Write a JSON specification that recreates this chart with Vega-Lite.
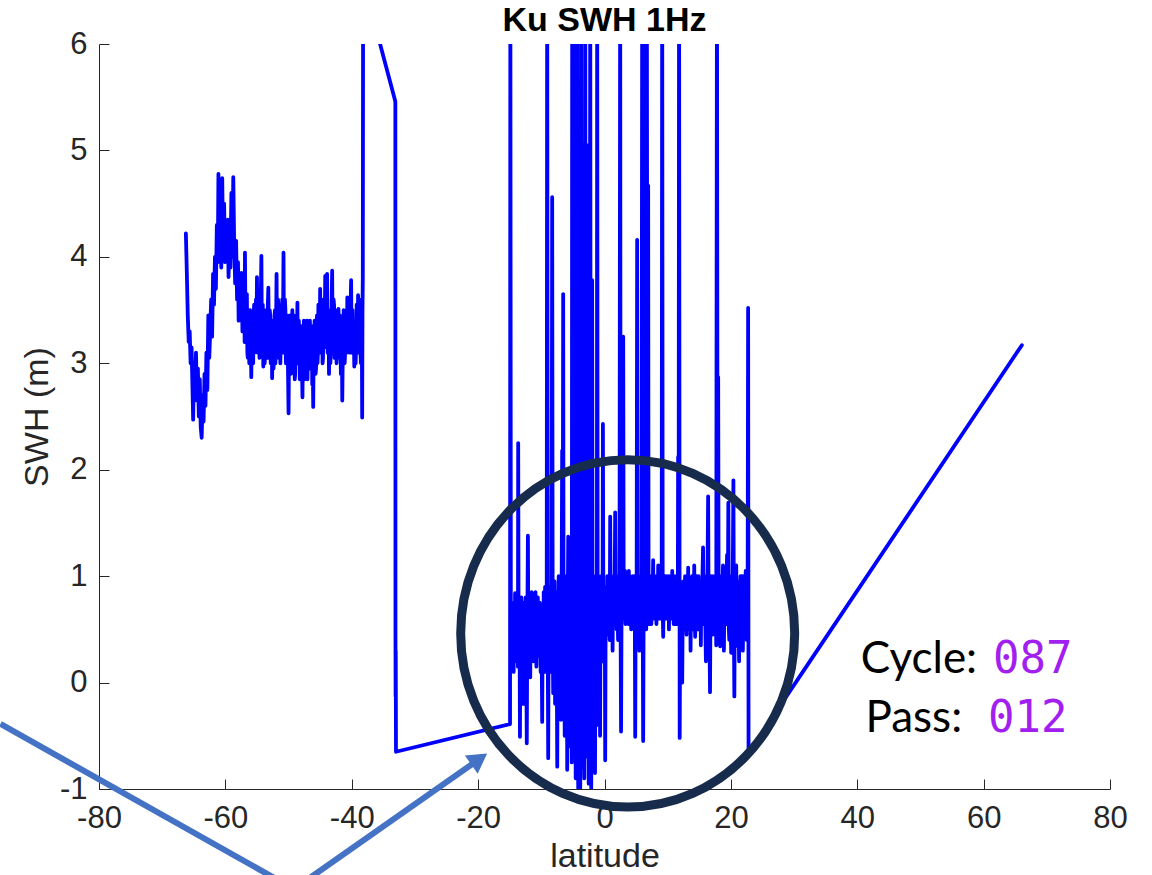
{
  "$schema": "https://vega.github.io/schema/vega-lite/v6.json",
  "width": 1011,
  "height": 745,
  "autosize": {"type": "none"},
  "padding": {"left": 99, "top": 44, "right": 42, "bottom": 86},
  "background": "white",
  "title": {"text": "Ku SWH 1Hz", "font": "Liberation Sans", "fontSize": 34, "fontWeight": "bold", "color": "#000000", "anchor": "middle", "offset": -10},
  "config": {
    "view": {"stroke": null},
    "axis": {
      "grid": false,
      "domainColor": "#262626",
      "tickColor": "#262626",
      "domainWidth": 1,
      "tickWidth": 1,
      "tickSize": -10,
      "labelFlush": false,
      "labelFont": "Liberation Sans",
      "labelFontSize": 31,
      "labelColor": "#262626",
      "labelExpr": "'' + datum.value",
      "titleFont": "Liberation Sans",
      "titleFontSize": 34,
      "titleFontWeight": "normal",
      "titleColor": "#262626"
    }
  },
  "datasets": {
    "swh": [
      {"lat": -66.25, "swh": 4.22}, {"lat": -66.1, "swh": 3.85}, {"lat": -65.95, "swh": 3.45}, {"lat": -65.8, "swh": 3.2},
      {"lat": -65.65, "swh": 3.3}, {"lat": -65.5, "swh": 3.0}, {"lat": -65.35, "swh": 3.15}, {"lat": -65.2, "swh": 2.75},
      {"lat": -65.1, "swh": 2.47}, {"lat": -64.95, "swh": 3.0}, {"lat": -64.8, "swh": 2.8}, {"lat": -64.65, "swh": 3.1},
      {"lat": -64.5, "swh": 2.65}, {"lat": -64.35, "swh": 2.95}, {"lat": -64.2, "swh": 2.5}, {"lat": -64.05, "swh": 2.85},
      {"lat": -63.9, "swh": 2.4}, {"lat": -63.75, "swh": 2.3}, {"lat": -63.6, "swh": 2.7}, {"lat": -63.45, "swh": 2.45},
      {"lat": -63.3, "swh": 2.9}, {"lat": -63.15, "swh": 2.6}, {"lat": -63.0, "swh": 3.1}, {"lat": -62.85, "swh": 2.75},
      {"lat": -62.7, "swh": 3.45}, {"lat": -62.55, "swh": 3.05}, {"lat": -62.4, "swh": 3.3}, {"lat": -62.25, "swh": 3.6},
      {"lat": -62.1, "swh": 3.25}, {"lat": -61.95, "swh": 3.84}, {"lat": -61.8, "swh": 3.55}, {"lat": -61.65, "swh": 4.0},
      {"lat": -61.5, "swh": 3.7}, {"lat": -61.35, "swh": 4.3}, {"lat": -61.2, "swh": 3.95}, {"lat": -61.1, "swh": 4.78},
      {"lat": -60.95, "swh": 4.1}, {"lat": -60.8, "swh": 4.4}, {"lat": -60.65, "swh": 3.9}, {"lat": -60.5, "swh": 4.74},
      {"lat": -60.35, "swh": 4.05}, {"lat": -60.2, "swh": 4.5}, {"lat": -60.05, "swh": 3.95}, {"lat": -59.9, "swh": 4.3},
      {"lat": -59.75, "swh": 4.0}, {"lat": -59.6, "swh": 4.35}, {"lat": -59.5, "swh": 3.81}, {"lat": -59.35, "swh": 4.2},
      {"lat": -59.2, "swh": 3.9}, {"lat": -59.05, "swh": 4.6}, {"lat": -58.9, "swh": 4.0}, {"lat": -58.75, "swh": 4.75},
      {"lat": -58.6, "swh": 4.1}, {"lat": -58.45, "swh": 3.75}, {"lat": -58.3, "swh": 4.15}, {"lat": -58.15, "swh": 3.6},
      {"lat": -58.0, "swh": 3.95}, {"lat": -57.9, "swh": 3.4}, {"lat": -57.75, "swh": 3.75}, {"lat": -57.6, "swh": 3.45},
      {"lat": -57.45, "swh": 3.85}, {"lat": -57.3, "swh": 3.3}, {"lat": -57.15, "swh": 3.7},
      {"lat": -57.0, "swh": 3.5}, {"lat": -56.95, "swh": 3.2}, {"lat": -56.9, "swh": 4.04}, {"lat": -56.82, "swh": 3.4},
      {"lat": -56.75, "swh": 3.2}, {"lat": -56.68, "swh": 3.55}, {"lat": -56.6, "swh": 3.65}, {"lat": -56.52, "swh": 3.1},
      {"lat": -56.45, "swh": 3.05}, {"lat": -56.38, "swh": 3.45}, {"lat": -56.3, "swh": 3.5}, {"lat": -56.22, "swh": 3.0},
      {"lat": -56.15, "swh": 3.1}, {"lat": -56.08, "swh": 3.5}, {"lat": -56.0, "swh": 3.4}, {"lat": -55.95, "swh": 3.1},
      {"lat": -55.9, "swh": 2.87}, {"lat": -55.82, "swh": 3.3}, {"lat": -55.75, "swh": 3.35}, {"lat": -55.68, "swh": 3.05},
      {"lat": -55.6, "swh": 3.0}, {"lat": -55.52, "swh": 3.45}, {"lat": -55.45, "swh": 3.55}, {"lat": -55.38, "swh": 3.1},
      {"lat": -55.3, "swh": 3.15}, {"lat": -55.22, "swh": 3.5}, {"lat": -55.15, "swh": 3.6}, {"lat": -55.08, "swh": 3.2},
      {"lat": -55.0, "swh": 3.81}, {"lat": -54.92, "swh": 3.3}, {"lat": -54.85, "swh": 3.1}, {"lat": -54.78, "swh": 3.5},
      {"lat": -54.7, "swh": 3.55}, {"lat": -54.6, "swh": 3.05}, {"lat": -54.5, "swh": 3.2}, {"lat": -54.4, "swh": 3.6},
      {"lat": -54.3, "swh": 4.01}, {"lat": -54.22, "swh": 3.15}, {"lat": -54.15, "swh": 3.3}, {"lat": -54.08, "swh": 3.55},
      {"lat": -54.0, "swh": 2.97}, {"lat": -53.92, "swh": 3.3}, {"lat": -53.85, "swh": 3.4}, {"lat": -53.78, "swh": 3.0},
      {"lat": -53.7, "swh": 3.1}, {"lat": -53.62, "swh": 3.45}, {"lat": -53.55, "swh": 3.5}, {"lat": -53.48, "swh": 3.05},
      {"lat": -53.4, "swh": 3.25}, {"lat": -53.3, "swh": 3.5}, {"lat": -53.2, "swh": 3.71}, {"lat": -53.12, "swh": 3.2},
      {"lat": -53.05, "swh": 3.05}, {"lat": -52.98, "swh": 3.5}, {"lat": -52.9, "swh": 3.45}, {"lat": -52.82, "swh": 3.0},
      {"lat": -52.75, "swh": 3.15}, {"lat": -52.68, "swh": 3.4}, {"lat": -52.6, "swh": 2.86}, {"lat": -52.52, "swh": 3.2},
      {"lat": -52.45, "swh": 3.35}, {"lat": -52.38, "swh": 2.95}, {"lat": -52.3, "swh": 3.05}, {"lat": -52.22, "swh": 3.45},
      {"lat": -52.15, "swh": 3.5}, {"lat": -52.08, "swh": 3.0}, {"lat": -52.0, "swh": 3.2}, {"lat": -51.95, "swh": 3.5},
      {"lat": -51.9, "swh": 3.84}, {"lat": -51.82, "swh": 3.1}, {"lat": -51.75, "swh": 3.3}, {"lat": -51.68, "swh": 3.6},
      {"lat": -51.6, "swh": 3.55}, {"lat": -51.52, "swh": 3.05}, {"lat": -51.45, "swh": 3.15}, {"lat": -51.38, "swh": 3.5},
      {"lat": -51.3, "swh": 3.0}, {"lat": -51.22, "swh": 3.3}, {"lat": -51.15, "swh": 3.4}, {"lat": -51.08, "swh": 3.1},
      {"lat": -51.0, "swh": 3.6}, {"lat": -50.9, "swh": 3.2}, {"lat": -50.8, "swh": 4.04}, {"lat": -50.72, "swh": 3.1},
      {"lat": -50.65, "swh": 3.3}, {"lat": -50.58, "swh": 3.6}, {"lat": -50.5, "swh": 3.5}, {"lat": -50.42, "swh": 3.0},
      {"lat": -50.35, "swh": 3.05}, {"lat": -50.25, "swh": 3.45}, {"lat": -50.15, "swh": 3.3}, {"lat": -50.08, "swh": 2.9},
      {"lat": -50.0, "swh": 2.53}, {"lat": -49.92, "swh": 3.2}, {"lat": -49.85, "swh": 3.1}, {"lat": -49.78, "swh": 3.45},
      {"lat": -49.7, "swh": 3.35}, {"lat": -49.62, "swh": 2.9}, {"lat": -49.55, "swh": 2.95}, {"lat": -49.48, "swh": 3.3},
      {"lat": -49.4, "swh": 3.5}, {"lat": -49.32, "swh": 3.0}, {"lat": -49.25, "swh": 3.1}, {"lat": -49.18, "swh": 3.45},
      {"lat": -49.1, "swh": 3.3}, {"lat": -49.02, "swh": 2.85}, {"lat": -48.95, "swh": 2.9}, {"lat": -48.88, "swh": 3.3},
      {"lat": -48.8, "swh": 3.4}, {"lat": -48.7, "swh": 3.0}, {"lat": -48.6, "swh": 3.57}, {"lat": -48.52, "swh": 3.0},
      {"lat": -48.45, "swh": 3.1}, {"lat": -48.38, "swh": 3.4}, {"lat": -48.3, "swh": 3.3}, {"lat": -48.22, "swh": 2.85},
      {"lat": -48.15, "swh": 2.9}, {"lat": -48.05, "swh": 3.35}, {"lat": -47.95, "swh": 3.2}, {"lat": -47.88, "swh": 3.0},
      {"lat": -47.8, "swh": 2.68}, {"lat": -47.72, "swh": 3.2}, {"lat": -47.65, "swh": 3.05}, {"lat": -47.58, "swh": 3.4},
      {"lat": -47.5, "swh": 3.25}, {"lat": -47.42, "swh": 2.85}, {"lat": -47.35, "swh": 2.95}, {"lat": -47.28, "swh": 3.3},
      {"lat": -47.2, "swh": 3.15}, {"lat": -47.1, "swh": 3.4}, {"lat": -47.0, "swh": 2.85}, {"lat": -46.92, "swh": 3.3},
      {"lat": -46.85, "swh": 3.2}, {"lat": -46.78, "swh": 2.95}, {"lat": -46.7, "swh": 3.29}, {"lat": -46.62, "swh": 3.4},
      {"lat": -46.55, "swh": 2.95}, {"lat": -46.48, "swh": 3.25}, {"lat": -46.4, "swh": 3.15}, {"lat": -46.32, "swh": 3.35},
      {"lat": -46.25, "swh": 2.8}, {"lat": -46.18, "swh": 3.1}, {"lat": -46.1, "swh": 2.59}, {"lat": -46.02, "swh": 3.2},
      {"lat": -45.95, "swh": 3.0}, {"lat": -45.88, "swh": 3.4}, {"lat": -45.8, "swh": 3.3}, {"lat": -45.72, "swh": 2.9},
      {"lat": -45.65, "swh": 2.95}, {"lat": -45.58, "swh": 3.35}, {"lat": -45.5, "swh": 3.45}, {"lat": -45.42, "swh": 3.0},
      {"lat": -45.35, "swh": 3.1}, {"lat": -45.28, "swh": 3.55}, {"lat": -45.2, "swh": 3.5}, {"lat": -45.1, "swh": 3.1},
      {"lat": -45.0, "swh": 3.7}, {"lat": -44.92, "swh": 3.1}, {"lat": -44.85, "swh": 3.2}, {"lat": -44.78, "swh": 3.6},
      {"lat": -44.7, "swh": 3.55}, {"lat": -44.62, "swh": 3.0}, {"lat": -44.55, "swh": 3.05}, {"lat": -44.48, "swh": 3.5},
      {"lat": -44.4, "swh": 3.6}, {"lat": -44.3, "swh": 3.15}, {"lat": -44.2, "swh": 3.82}, {"lat": -44.12, "swh": 3.2},
      {"lat": -44.05, "swh": 3.3}, {"lat": -43.98, "swh": 3.5}, {"lat": -43.9, "swh": 3.84}, {"lat": -43.82, "swh": 3.1},
      {"lat": -43.75, "swh": 3.25}, {"lat": -43.68, "swh": 3.5}, {"lat": -43.6, "swh": 2.9}, {"lat": -43.52, "swh": 3.2},
      {"lat": -43.45, "swh": 3.4}, {"lat": -43.38, "swh": 3.0}, {"lat": -43.3, "swh": 3.15}, {"lat": -43.2, "swh": 3.5},
      {"lat": -43.1, "swh": 3.87}, {"lat": -43.02, "swh": 3.1}, {"lat": -42.95, "swh": 3.3}, {"lat": -42.88, "swh": 3.6},
      {"lat": -42.8, "swh": 3.55}, {"lat": -42.72, "swh": 3.05}, {"lat": -42.65, "swh": 3.1}, {"lat": -42.58, "swh": 3.5},
      {"lat": -42.5, "swh": 3.4}, {"lat": -42.4, "swh": 3.0}, {"lat": -42.3, "swh": 3.2}, {"lat": -42.2, "swh": 3.3},
      {"lat": -42.1, "swh": 3.51}, {"lat": -42.02, "swh": 3.1}, {"lat": -41.95, "swh": 3.05}, {"lat": -41.88, "swh": 3.45},
      {"lat": -41.8, "swh": 3.35}, {"lat": -41.72, "swh": 2.9}, {"lat": -41.65, "swh": 2.95}, {"lat": -41.58, "swh": 3.3},
      {"lat": -41.5, "swh": 2.65}, {"lat": -41.42, "swh": 3.1}, {"lat": -41.35, "swh": 3.2}, {"lat": -41.28, "swh": 3.5},
      {"lat": -41.2, "swh": 3.45}, {"lat": -41.12, "swh": 3.0}, {"lat": -41.05, "swh": 3.1}, {"lat": -40.98, "swh": 3.4},
      {"lat": -40.9, "swh": 3.35}, {"lat": -40.8, "swh": 3.1}, {"lat": -40.7, "swh": 3.62}, {"lat": -40.62, "swh": 3.15},
      {"lat": -40.55, "swh": 3.2}, {"lat": -40.48, "swh": 3.55}, {"lat": -40.4, "swh": 3.5}, {"lat": -40.32, "swh": 3.1},
      {"lat": -40.25, "swh": 3.25}, {"lat": -40.18, "swh": 3.55}, {"lat": -40.1, "swh": 3.78}, {"lat": -40.02, "swh": 3.1},
      {"lat": -39.95, "swh": 3.3}, {"lat": -39.88, "swh": 3.5}, {"lat": -39.8, "swh": 3.1}, {"lat": -39.7, "swh": 3.4},
      {"lat": -39.6, "swh": 2.97}, {"lat": -39.52, "swh": 3.25}, {"lat": -39.45, "swh": 3.35}, {"lat": -39.38, "swh": 3.0},
      {"lat": -39.3, "swh": 3.2}, {"lat": -39.22, "swh": 3.55}, {"lat": -39.15, "swh": 3.5}, {"lat": -39.08, "swh": 3.1},
      {"lat": -39.0, "swh": 3.64}, {"lat": -38.92, "swh": 3.2}, {"lat": -38.85, "swh": 3.15}, {"lat": -38.78, "swh": 3.5},
      {"lat": -38.7, "swh": 3.55}, {"lat": -38.62, "swh": 3.1}, {"lat": -38.55, "swh": 3.0}, {"lat": -38.5, "swh": 3.45},
      {"lat": -38.45, "swh": 3.6}, {"lat": -38.4, "swh": 3.2}, {"lat": -38.35, "swh": 2.49}, {"lat": -38.3, "swh": 3.5},
      {"lat": -38.25, "swh": 3.8}, {"lat": -38.2, "swh": 6.6},
      {"lat": -33.1, "swh": 5.46}, {"lat": -33.08, "swh": 0.49}, {"lat": -33.06, "swh": -0.13}, {"lat": -33.04, "swh": 0.3},
      {"lat": -33.0, "swh": -0.65}, {"lat": -14.95, "swh": -0.39}, {"lat": -14.9, "swh": 6.8},
      {"lat": -14.82, "swh": 0.5}, {"lat": -14.75, "swh": 0.3}, {"lat": -14.68, "swh": 0.75}, {"lat": -14.6, "swh": 0.25},
      {"lat": -14.52, "swh": 0.7}, {"lat": -14.45, "swh": 0.35}, {"lat": -14.38, "swh": 0.1}, {"lat": -14.3, "swh": 0.65},
      {"lat": -14.22, "swh": 0.3}, {"lat": -14.15, "swh": 0.84}, {"lat": -14.08, "swh": 0.4}, {"lat": -14.0, "swh": 0.7},
      {"lat": -13.92, "swh": 0.2}, {"lat": -13.85, "swh": 0.8}, {"lat": -13.78, "swh": 0.45}, {"lat": -13.7, "swh": 0.15},
      {"lat": -13.66, "swh": 2.25}, {"lat": -13.6, "swh": 0.6}, {"lat": -13.52, "swh": 0.3}, {"lat": -13.45, "swh": 0.75},
      {"lat": -13.38, "swh": -0.51}, {"lat": -13.3, "swh": 0.6}, {"lat": -13.22, "swh": 0.35}, {"lat": -13.15, "swh": 0.8},
      {"lat": -13.08, "swh": 0.2}, {"lat": -13.0, "swh": 0.65}, {"lat": -12.92, "swh": 0.4}, {"lat": -12.85, "swh": -0.2},
      {"lat": -12.78, "swh": 0.75}, {"lat": -12.7, "swh": 0.3}, {"lat": -12.62, "swh": 0.6}, {"lat": -12.55, "swh": 0.2},
      {"lat": -12.48, "swh": 0.8}, {"lat": -12.4, "swh": 0.45}, {"lat": -12.3, "swh": -0.57}, {"lat": -12.22, "swh": 0.5},
      {"lat": -12.12, "swh": 1.38}, {"lat": -12.05, "swh": 0.35}, {"lat": -11.98, "swh": 0.7}, {"lat": -11.9, "swh": 0.25},
      {"lat": -11.82, "swh": 0.6}, {"lat": -11.75, "swh": 0.05}, {"lat": -11.68, "swh": 0.75}, {"lat": -11.6, "swh": 0.4},
      {"lat": -11.52, "swh": 0.85}, {"lat": -11.45, "swh": 0.3}, {"lat": -11.38, "swh": 0.65}, {"lat": -11.3, "swh": 0.2},
      {"lat": -11.22, "swh": 0.8}, {"lat": -11.15, "swh": 0.45}, {"lat": -11.08, "swh": 0.7}, {"lat": -11.0, "swh": 0.3},
      {"lat": -10.92, "swh": 0.85}, {"lat": -10.85, "swh": 0.5}, {"lat": -10.78, "swh": 0.15}, {"lat": -10.7, "swh": 0.7},
      {"lat": -10.62, "swh": 0.35}, {"lat": -10.55, "swh": 0.8}, {"lat": -10.48, "swh": 0.3}, {"lat": -10.4, "swh": 0.6},
      {"lat": -10.32, "swh": 0.25}, {"lat": -10.25, "swh": 0.75}, {"lat": -10.18, "swh": 0.45}, {"lat": -10.1, "swh": 0.1},
      {"lat": -10.02, "swh": 0.65}, {"lat": -9.95, "swh": 0.3}, {"lat": -9.86, "swh": -0.37}, {"lat": -9.78, "swh": 0.7},
      {"lat": -9.7, "swh": 0.4}, {"lat": -9.62, "swh": 0.85}, {"lat": -9.55, "swh": 0.2}, {"lat": -9.48, "swh": 0.6},
      {"lat": -9.4, "swh": 0.9}, {"lat": -9.32, "swh": 0.1}, {"lat": -9.24, "swh": 0.55}, {"lat": -9.15, "swh": 0.3},
      {"lat": -9.07, "swh": 6.8}, {"lat": -8.98, "swh": 0.4}, {"lat": -8.91, "swh": -0.71}, {"lat": -8.83, "swh": 0.7},
      {"lat": -8.75, "swh": 0.25}, {"lat": -8.68, "swh": 0.85}, {"lat": -8.6, "swh": 0.1}, {"lat": -8.52, "swh": 0.6},
      {"lat": -8.45, "swh": 0.9}, {"lat": -8.38, "swh": 0.3}, {"lat": -8.28, "swh": 4.56}, {"lat": -8.2, "swh": 0.5},
      {"lat": -8.12, "swh": -0.1}, {"lat": -8.05, "swh": 0.8}, {"lat": -7.98, "swh": 0.35}, {"lat": -7.9, "swh": 0.95},
      {"lat": -7.82, "swh": -0.2}, {"lat": -7.75, "swh": 0.6}, {"lat": -7.68, "swh": 0.2}, {"lat": -7.6, "swh": 0.85},
      {"lat": -7.48, "swh": -0.79}, {"lat": -7.4, "swh": 0.7}, {"lat": -7.32, "swh": 0.3}, {"lat": -7.25, "swh": 1.0},
      {"lat": -7.18, "swh": 0.1}, {"lat": -7.1, "swh": 0.75}, {"lat": -7.02, "swh": -0.3}, {"lat": -6.95, "swh": 0.9},
      {"lat": -6.88, "swh": -0.35}, {"lat": -6.8, "swh": 0.6}, {"lat": -6.7, "swh": 2.18}, {"lat": -6.62, "swh": 0.3},
      {"lat": -6.54, "swh": 3.65}, {"lat": -6.46, "swh": -0.2}, {"lat": -6.38, "swh": 0.8}, {"lat": -6.3, "swh": -0.5},
      {"lat": -6.22, "swh": 1.0}, {"lat": -6.14, "swh": 0.2}, {"lat": -6.06, "swh": -0.4}, {"lat": -5.98, "swh": 0.9},
      {"lat": -5.9, "swh": -0.82}, {"lat": -5.82, "swh": 0.6}, {"lat": -5.74, "swh": 1.37}, {"lat": -5.66, "swh": -0.3},
      {"lat": -5.58, "swh": 0.8}, {"lat": -5.5, "swh": -0.6}, {"lat": -5.42, "swh": 1.1}, {"lat": -5.34, "swh": -0.2},
      {"lat": -5.26, "swh": 0.9}, {"lat": -5.18, "swh": -0.75}, {"lat": -5.11, "swh": 6.8}, {"lat": -5.04, "swh": 0.2},
      {"lat": -4.96, "swh": -0.7}, {"lat": -4.88, "swh": 1.0}, {"lat": -4.8, "swh": 6.8}, {"lat": -4.72, "swh": -0.5},
      {"lat": -4.64, "swh": 0.8}, {"lat": -4.56, "swh": -0.9}, {"lat": -4.48, "swh": 1.15}, {"lat": -4.4, "swh": -0.3},
      {"lat": -4.33, "swh": 6.8}, {"lat": -4.25, "swh": 0.4}, {"lat": -4.16, "swh": -0.99}, {"lat": -4.08, "swh": 0.9},
      {"lat": -4.0, "swh": 1.2}, {"lat": -3.92, "swh": -0.6}, {"lat": -3.84, "swh": -0.99}, {"lat": -3.76, "swh": 0.7},
      {"lat": -3.7, "swh": 6.8}, {"lat": -3.62, "swh": 0.1}, {"lat": -3.55, "swh": -0.8}, {"lat": -3.47, "swh": 1.0},
      {"lat": -3.37, "swh": 5.05}, {"lat": -3.28, "swh": -0.4}, {"lat": -3.2, "swh": -0.9}, {"lat": -3.12, "swh": 0.8},
      {"lat": -3.05, "swh": 6.8}, {"lat": -2.97, "swh": 0.3}, {"lat": -2.9, "swh": -0.6}, {"lat": -2.82, "swh": 1.1},
      {"lat": -2.74, "swh": 5.05}, {"lat": -2.66, "swh": -0.7}, {"lat": -2.58, "swh": 0.6}, {"lat": -2.5, "swh": -0.95},
      {"lat": -2.42, "swh": 0.9}, {"lat": -2.34, "swh": -0.2}, {"lat": -2.26, "swh": 6.8}, {"lat": -2.18, "swh": 0.5},
      {"lat": -2.1, "swh": -0.99}, {"lat": -2.02, "swh": 0.8}, {"lat": -1.95, "swh": 3.78}, {"lat": -1.87, "swh": -0.5},
      {"lat": -1.8, "swh": 0.9}, {"lat": -1.72, "swh": -0.3}, {"lat": -1.65, "swh": 1.0}, {"lat": -1.57, "swh": -0.1},
      {"lat": -1.5, "swh": -0.85}, {"lat": -1.42, "swh": 0.7}, {"lat": -1.35, "swh": 0.9}, {"lat": -1.27, "swh": -0.4},
      {"lat": -1.2, "swh": 0.8}, {"lat": -1.16, "swh": 6.8}, {"lat": -1.08, "swh": 0.3}, {"lat": -1.0, "swh": 0.1},
      {"lat": -0.92, "swh": 0.95}, {"lat": -0.85, "swh": 0.4}, {"lat": -0.78, "swh": 0.8}, {"lat": -0.7, "swh": -0.5},
      {"lat": -0.62, "swh": 0.9}, {"lat": -0.55, "swh": 1.0}, {"lat": -0.48, "swh": 0.3}, {"lat": -0.4, "swh": 0.85},
      {"lat": -0.32, "swh": 0.2}, {"lat": -0.25, "swh": 2.43}, {"lat": -0.18, "swh": 0.6}, {"lat": -0.1, "swh": 0.9},
      {"lat": -0.02, "swh": 0.3}, {"lat": 0.05, "swh": 0.7}, {"lat": 0.11, "swh": -0.73}, {"lat": 0.19, "swh": 0.8},
      {"lat": 0.27, "swh": 0.9}, {"lat": 0.35, "swh": 0.45}, {"lat": 0.45, "swh": 1.0}, {"lat": 0.52, "swh": 0.5},
      {"lat": 0.6, "swh": 1.0}, {"lat": 0.68, "swh": 0.6}, {"lat": 0.75, "swh": 0.95}, {"lat": 0.82, "swh": 0.4},
      {"lat": 0.9, "swh": 1.56}, {"lat": 0.98, "swh": 0.7}, {"lat": 1.05, "swh": 1.0}, {"lat": 1.12, "swh": 0.6},
      {"lat": 1.2, "swh": 0.95}, {"lat": 1.28, "swh": 0.3}, {"lat": 1.35, "swh": 0.85}, {"lat": 1.42, "swh": 0.55},
      {"lat": 1.5, "swh": 1.0}, {"lat": 1.58, "swh": 0.6}, {"lat": 1.69, "swh": 1.6}, {"lat": 1.77, "swh": 0.65},
      {"lat": 1.85, "swh": 1.0}, {"lat": 1.92, "swh": 0.5}, {"lat": 2.0, "swh": 0.95}, {"lat": 2.08, "swh": 0.6},
      {"lat": 2.15, "swh": 0.4}, {"lat": 2.22, "swh": 0.9}, {"lat": 2.3, "swh": 0.65}, {"lat": 2.38, "swh": 1.0},
      {"lat": 2.48, "swh": 6.8}, {"lat": 2.55, "swh": 0.5}, {"lat": 2.62, "swh": -0.46}, {"lat": 2.7, "swh": 0.7},
      {"lat": 2.8, "swh": 0.95}, {"lat": 2.88, "swh": 0.6}, {"lat": 2.96, "swh": 3.25}, {"lat": 3.04, "swh": 0.7},
      {"lat": 3.1, "swh": 1.0}, {"lat": 3.18, "swh": 0.6}, {"lat": 3.25, "swh": 1.05}, {"lat": 3.32, "swh": 0.55},
      {"lat": 3.4, "swh": 0.9}, {"lat": 3.48, "swh": 0.6}, {"lat": 3.55, "swh": 1.0}, {"lat": 3.62, "swh": 0.65},
      {"lat": 3.7, "swh": 0.9}, {"lat": 3.78, "swh": 0.55}, {"lat": 3.85, "swh": 1.05}, {"lat": 3.92, "swh": 0.7},
      {"lat": 4.0, "swh": 1.0}, {"lat": 4.08, "swh": 0.6}, {"lat": 4.15, "swh": 0.95}, {"lat": 4.22, "swh": 0.5},
      {"lat": 4.3, "swh": 0.9}, {"lat": 4.38, "swh": 0.65}, {"lat": 4.45, "swh": 1.0}, {"lat": 4.52, "swh": 0.55},
      {"lat": 4.6, "swh": 0.85}, {"lat": 4.7, "swh": 0.6}, {"lat": 4.78, "swh": 1.0}, {"lat": 4.86, "swh": -0.51},
      {"lat": 4.93, "swh": 0.7}, {"lat": 5.0, "swh": 0.95}, {"lat": 5.08, "swh": 0.6}, {"lat": 5.17, "swh": 4.16},
      {"lat": 5.24, "swh": 0.6}, {"lat": 5.3, "swh": 1.0}, {"lat": 5.38, "swh": 0.7}, {"lat": 5.45, "swh": 0.95},
      {"lat": 5.52, "swh": 0.3}, {"lat": 5.6, "swh": 0.85}, {"lat": 5.68, "swh": 0.6}, {"lat": 5.75, "swh": 1.0},
      {"lat": 5.85, "swh": 0.55}, {"lat": 5.97, "swh": 6.8}, {"lat": 6.05, "swh": 0.7}, {"lat": 6.12, "swh": -0.55},
      {"lat": 6.2, "swh": 0.8}, {"lat": 6.3, "swh": 6.8}, {"lat": 6.4, "swh": 0.6}, {"lat": 6.5, "swh": 0.95},
      {"lat": 6.6, "swh": 0.5}, {"lat": 6.7, "swh": 6.8}, {"lat": 6.8, "swh": 0.7}, {"lat": 6.91, "swh": 4.67},
      {"lat": 6.98, "swh": 0.55}, {"lat": 7.05, "swh": 0.9}, {"lat": 7.12, "swh": 0.6}, {"lat": 7.2, "swh": 1.0},
      {"lat": 7.28, "swh": 0.65}, {"lat": 7.35, "swh": 0.9}, {"lat": 7.42, "swh": 0.55}, {"lat": 7.5, "swh": 1.0},
      {"lat": 7.6, "swh": 0.7}, {"lat": 7.7, "swh": 1.15}, {"lat": 7.78, "swh": 0.65}, {"lat": 7.85, "swh": 0.95},
      {"lat": 7.92, "swh": 0.6}, {"lat": 8.0, "swh": 1.0}, {"lat": 8.08, "swh": 0.7}, {"lat": 8.15, "swh": 0.9},
      {"lat": 8.22, "swh": 0.55}, {"lat": 8.3, "swh": 1.0}, {"lat": 8.4, "swh": 0.65}, {"lat": 8.5, "swh": 1.1},
      {"lat": 8.58, "swh": 0.7}, {"lat": 8.65, "swh": 0.95}, {"lat": 8.72, "swh": 0.6}, {"lat": 8.8, "swh": 1.0},
      {"lat": 8.88, "swh": 0.65}, {"lat": 8.95, "swh": 0.9}, {"lat": 9.05, "swh": 0.6}, {"lat": 9.13, "swh": 6.8},
      {"lat": 9.21, "swh": 0.7}, {"lat": 9.29, "swh": 0.43}, {"lat": 9.37, "swh": 0.9}, {"lat": 9.45, "swh": 0.65},
      {"lat": 9.52, "swh": 1.0}, {"lat": 9.6, "swh": 0.6}, {"lat": 9.68, "swh": 0.95}, {"lat": 9.75, "swh": 0.7},
      {"lat": 9.82, "swh": 1.0}, {"lat": 9.9, "swh": 0.6}, {"lat": 9.98, "swh": 0.9}, {"lat": 10.05, "swh": 0.7},
      {"lat": 10.12, "swh": 1.0}, {"lat": 10.2, "swh": 0.5}, {"lat": 10.28, "swh": 0.9}, {"lat": 10.35, "swh": 0.65},
      {"lat": 10.42, "swh": 1.0}, {"lat": 10.5, "swh": 0.7}, {"lat": 10.58, "swh": 0.95}, {"lat": 10.65, "swh": 0.6},
      {"lat": 10.72, "swh": 1.05}, {"lat": 10.8, "swh": 0.65}, {"lat": 10.88, "swh": 0.9}, {"lat": 10.95, "swh": 0.55},
      {"lat": 11.02, "swh": 1.0}, {"lat": 11.1, "swh": 0.7}, {"lat": 11.18, "swh": 0.95}, {"lat": 11.25, "swh": 0.6},
      {"lat": 11.32, "swh": 1.0}, {"lat": 11.4, "swh": 0.55}, {"lat": 11.5, "swh": 0.9}, {"lat": 11.6, "swh": 0.7},
      {"lat": 11.65, "swh": 2.12}, {"lat": 11.73, "swh": 0.6}, {"lat": 11.8, "swh": 6.8}, {"lat": 11.9, "swh": -0.52},
      {"lat": 11.98, "swh": 0.7}, {"lat": 12.05, "swh": 0.9}, {"lat": 12.15, "swh": 0.4}, {"lat": 12.22, "swh": 0.85},
      {"lat": 12.3, "swh": 0.0}, {"lat": 12.38, "swh": 0.7}, {"lat": 12.45, "swh": 0.95}, {"lat": 12.52, "swh": 0.5},
      {"lat": 12.6, "swh": 0.9}, {"lat": 12.68, "swh": 0.55}, {"lat": 12.75, "swh": 1.0}, {"lat": 12.82, "swh": 0.6},
      {"lat": 12.9, "swh": 0.9}, {"lat": 12.98, "swh": 0.45}, {"lat": 13.05, "swh": 0.95}, {"lat": 13.15, "swh": 0.6},
      {"lat": 13.24, "swh": 1.08}, {"lat": 13.32, "swh": 0.5}, {"lat": 13.4, "swh": 0.85}, {"lat": 13.48, "swh": 0.6},
      {"lat": 13.55, "swh": 0.95}, {"lat": 13.62, "swh": 0.3}, {"lat": 13.7, "swh": 0.8}, {"lat": 13.78, "swh": 0.55},
      {"lat": 13.85, "swh": 1.0}, {"lat": 13.92, "swh": 0.6}, {"lat": 14.0, "swh": 0.9}, {"lat": 14.1, "swh": 0.5},
      {"lat": 14.2, "swh": 1.1}, {"lat": 14.28, "swh": 0.6}, {"lat": 14.35, "swh": 0.43}, {"lat": 14.42, "swh": 0.9},
      {"lat": 14.5, "swh": 0.65}, {"lat": 14.58, "swh": 1.0}, {"lat": 14.65, "swh": 0.5}, {"lat": 14.72, "swh": 0.9},
      {"lat": 14.8, "swh": 0.6}, {"lat": 14.88, "swh": 1.0}, {"lat": 14.95, "swh": 0.5}, {"lat": 15.02, "swh": 0.85},
      {"lat": 15.1, "swh": 0.6}, {"lat": 15.18, "swh": 0.95}, {"lat": 15.25, "swh": 0.35}, {"lat": 15.32, "swh": 0.85},
      {"lat": 15.4, "swh": 0.6}, {"lat": 15.5, "swh": 1.0}, {"lat": 15.6, "swh": 1.27}, {"lat": 15.68, "swh": 0.55},
      {"lat": 15.75, "swh": 0.9}, {"lat": 15.82, "swh": 0.6}, {"lat": 15.9, "swh": 1.0}, {"lat": 15.98, "swh": 0.45},
      {"lat": 16.05, "swh": 0.2}, {"lat": 16.12, "swh": 0.85}, {"lat": 16.2, "swh": 0.55}, {"lat": 16.3, "swh": 1.0},
      {"lat": 16.4, "swh": 1.75}, {"lat": 16.48, "swh": 0.6}, {"lat": 16.55, "swh": 0.9}, {"lat": 16.62, "swh": 0.4},
      {"lat": 16.7, "swh": -0.09}, {"lat": 16.78, "swh": 0.8}, {"lat": 16.85, "swh": 1.0}, {"lat": 16.92, "swh": 0.5},
      {"lat": 17.0, "swh": 0.85}, {"lat": 17.08, "swh": 0.45}, {"lat": 17.15, "swh": 1.0}, {"lat": 17.22, "swh": 0.6},
      {"lat": 17.3, "swh": 0.95}, {"lat": 17.38, "swh": 0.5}, {"lat": 17.45, "swh": 0.9}, {"lat": 17.52, "swh": 0.65},
      {"lat": 17.6, "swh": 1.0}, {"lat": 17.68, "swh": 0.35}, {"lat": 17.8, "swh": 6.8}, {"lat": 17.9, "swh": 0.6},
      {"lat": 17.99, "swh": 2.87}, {"lat": 18.07, "swh": 0.5}, {"lat": 18.15, "swh": 0.95}, {"lat": 18.22, "swh": 0.4},
      {"lat": 18.3, "swh": 0.34}, {"lat": 18.38, "swh": 0.9}, {"lat": 18.45, "swh": 0.6}, {"lat": 18.52, "swh": 1.0},
      {"lat": 18.6, "swh": 0.5}, {"lat": 18.68, "swh": 0.9}, {"lat": 18.75, "swh": 1.1}, {"lat": 18.82, "swh": 0.55},
      {"lat": 18.9, "swh": 0.3}, {"lat": 18.98, "swh": 0.85}, {"lat": 19.05, "swh": 0.6}, {"lat": 19.12, "swh": 1.0},
      {"lat": 19.2, "swh": 0.55}, {"lat": 19.3, "swh": 0.95}, {"lat": 19.4, "swh": 1.2}, {"lat": 19.5, "swh": 0.6},
      {"lat": 19.6, "swh": 1.69}, {"lat": 19.68, "swh": 0.5}, {"lat": 19.75, "swh": 0.4}, {"lat": 19.82, "swh": 0.9},
      {"lat": 19.9, "swh": 1.0}, {"lat": 19.98, "swh": 0.5}, {"lat": 20.05, "swh": 0.28}, {"lat": 20.12, "swh": 0.9},
      {"lat": 20.2, "swh": 0.65}, {"lat": 20.3, "swh": 1.0}, {"lat": 20.4, "swh": 1.9}, {"lat": 20.48, "swh": 0.5},
      {"lat": 20.55, "swh": -0.13}, {"lat": 20.62, "swh": 0.7}, {"lat": 20.7, "swh": 0.34}, {"lat": 20.78, "swh": 0.9},
      {"lat": 20.85, "swh": 1.1}, {"lat": 20.92, "swh": 0.6}, {"lat": 21.0, "swh": 0.9}, {"lat": 21.08, "swh": 0.5},
      {"lat": 21.15, "swh": 0.95}, {"lat": 21.22, "swh": 0.6}, {"lat": 21.3, "swh": 0.2}, {"lat": 21.38, "swh": 0.85},
      {"lat": 21.45, "swh": 0.6}, {"lat": 21.52, "swh": 1.0}, {"lat": 21.6, "swh": 0.45}, {"lat": 21.68, "swh": 0.9},
      {"lat": 21.75, "swh": 1.0}, {"lat": 21.82, "swh": 0.6}, {"lat": 21.9, "swh": 0.3}, {"lat": 21.98, "swh": 0.85},
      {"lat": 22.05, "swh": 1.0}, {"lat": 22.12, "swh": 0.55}, {"lat": 22.2, "swh": 0.9}, {"lat": 22.28, "swh": 0.6},
      {"lat": 22.35, "swh": 1.05}, {"lat": 22.42, "swh": 0.5}, {"lat": 22.5, "swh": 0.4}, {"lat": 22.58, "swh": 0.9},
      {"lat": 22.65, "swh": 0.7}, {"lat": 22.73, "swh": 3.52}, {"lat": 22.8, "swh": -0.66},
      {"lat": 66.05, "swh": 3.17}
    ],
    "arrows": [
      {"arrow": "a", "lat": -95.6, "swh": -0.388},
      {"arrow": "a", "lat": -51.47, "swh": -1.862},
      {"arrow": "b", "lat": -47.28, "swh": -1.862},
      {"arrow": "b", "lat": -19.6, "swh": -0.71}
    ],
    "heads": [{"lat": -19.83, "swh": -0.718}],
    "ring": [{"lat": 3.67, "swh": 0.462}],
    "words": [
      {"t": "Cycle:", "lat": 58.97, "swh": 0.091},
      {"t": "Pass:", "lat": 56.6, "swh": -0.463}
    ],
    "nums": [
      {"t": "087", "lat": 61.5, "swh": 0.091},
      {"t": "012", "lat": 60.7, "swh": -0.463}
    ]
  },
  "encoding": {
    "x": {
      "field": "lat", "type": "quantitative",
      "scale": {"domain": [-80, 80], "nice": false, "zero": false},
      "axis": {"values": [-80, -60, -40, -20, 0, 20, 40, 60, 80], "title": "latitude", "labelPadding": 24, "titlePadding": 6}
    },
    "y": {
      "field": "swh", "type": "quantitative",
      "scale": {"domain": [-1, 6], "nice": false, "zero": false},
      "axis": {"values": [-1, 0, 1, 2, 3, 4, 5, 6], "title": "SWH (m)", "labelPadding": 22, "titlePadding": 5}
    }
  },
  "layer": [
    {
      "data": {"name": "swh"},
      "mark": {"type": "line", "color": "#0000ff", "strokeWidth": 3.8, "clip": true, "strokeJoin": "round", "strokeCap": "round"}
    },
    {
      "data": {"name": "ring"},
      "mark": {"type": "point", "shape": "M0,-1.04A1,1.04 0 1,1 0,1.04A1,1.04 0 1,1 0,-1.04Z", "size": 111556, "filled": false, "stroke": "#172b4d", "strokeWidth": 9, "opacity": 1}
    },
    {
      "data": {"name": "arrows"},
      "mark": {"type": "line", "color": "#4472c4", "strokeWidth": 6},
      "encoding": {"detail": {"field": "arrow"}}
    },
    {
      "data": {"name": "heads"},
      "mark": {"type": "point", "shape": "triangle-up", "size": 500, "filled": true, "color": "#4472c4", "angle": 55, "opacity": 1}
    },
    {
      "data": {"name": "words"},
      "mark": {"type": "text", "font": "Lato", "fontSize": 44, "color": "#000000", "align": "right", "baseline": "alphabetic"},
      "encoding": {"text": {"field": "t"}}
    },
    {
      "data": {"name": "nums"},
      "mark": {"type": "text", "font": "DejaVu Sans Mono", "fontSize": 44, "color": "#a11fef", "align": "left", "baseline": "alphabetic"},
      "encoding": {"text": {"field": "t"}}
    }
  ]
}
